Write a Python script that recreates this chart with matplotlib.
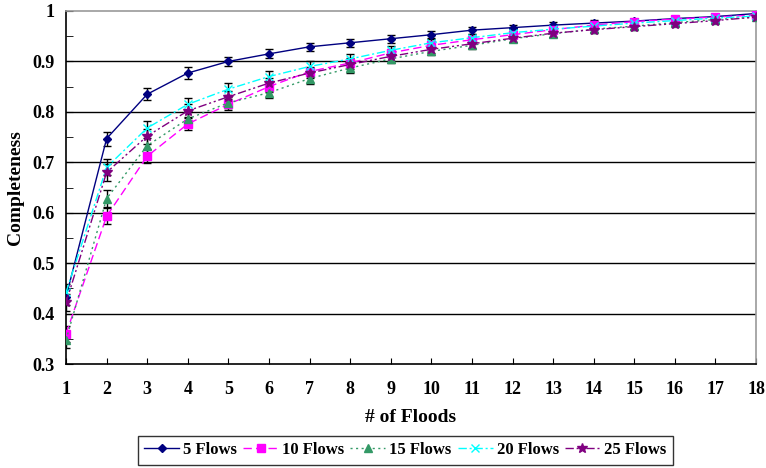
import matplotlib
matplotlib.use("Agg")
import matplotlib.pyplot as plt
import numpy as np

floods = list(range(1, 19))
flows_5 = [0.433, 0.747, 0.835, 0.877, 0.900, 0.915, 0.929, 0.937, 0.945, 0.953, 0.962, 0.967, 0.972, 0.976, 0.980, 0.985, 0.989, 0.995]
flows_10 = [0.360, 0.593, 0.712, 0.776, 0.815, 0.850, 0.880, 0.897, 0.917, 0.932, 0.943, 0.953, 0.963, 0.972, 0.979, 0.984, 0.988, 0.992]
flows_15 = [0.348, 0.628, 0.733, 0.786, 0.818, 0.838, 0.866, 0.887, 0.905, 0.920, 0.932, 0.945, 0.955, 0.964, 0.970, 0.977, 0.983, 0.988]
flows_20 = [0.442, 0.690, 0.768, 0.815, 0.845, 0.870, 0.890, 0.905, 0.922, 0.937, 0.947, 0.957, 0.964, 0.970, 0.976, 0.981, 0.986, 0.990]
flows_25 = [0.422, 0.680, 0.752, 0.802, 0.830, 0.857, 0.877, 0.894, 0.910, 0.924, 0.935, 0.946, 0.956, 0.963, 0.969, 0.975, 0.981, 0.988]
err_5 = [0.015, 0.014, 0.012, 0.011, 0.009, 0.009, 0.008, 0.008, 0.008, 0.007, 0.007, 0.006, 0.006, 0.006, 0.005, 0.005, 0.005, 0.004]
err_10 = [0.016, 0.016, 0.014, 0.012, 0.011, 0.010, 0.009, 0.009, 0.008, 0.008, 0.007, 0.007, 0.006, 0.006, 0.006, 0.005, 0.005, 0.004]
err_15 = [0.016, 0.017, 0.015, 0.013, 0.011, 0.011, 0.010, 0.009, 0.009, 0.008, 0.008, 0.007, 0.007, 0.006, 0.006, 0.005, 0.005, 0.004]
err_20 = [0.016, 0.016, 0.014, 0.013, 0.012, 0.011, 0.010, 0.009, 0.009, 0.008, 0.008, 0.007, 0.007, 0.006, 0.006, 0.005, 0.005, 0.004]
err_25 = [0.016, 0.017, 0.015, 0.013, 0.012, 0.011, 0.010, 0.009, 0.009, 0.008, 0.008, 0.007, 0.007, 0.006, 0.006, 0.005, 0.005, 0.004]
labels = ["5 Flows", "10 Flows", "15 Flows", "20 Flows", "25 Flows"]

plt.rcParams['font.family'] = ['Liberation Serif', 'DejaVu Serif']
plt.rcParams['font.weight'] = 'bold'

fig = plt.figure(figsize=(7.66, 4.68), dpi=100)
ax = fig.add_axes([0.0862, 0.2222, 0.9008, 0.7543])

series = [
    (flows_5, err_5, "#000080", "-", "D", 4.5),
    (flows_10, err_10, "#FF00FF", (0, (6, 3)), "s", 5.5),
    (flows_15, err_15, "#339966", (0, (1.5, 2.5)), "^", 5.5),
    (flows_20, err_20, "#00FFFF", (0, (6, 2, 1.5, 2)), "x", 6),
    (flows_25, err_25, "#800080", (0, (6, 2, 1.5, 2, 1.5, 2)), "*", 7),
]
handles = []
for (vals, err, col, ls, mk, ms), lab in zip(series, labels):
    ax.errorbar(floods, vals, yerr=err, fmt='none', ecolor='black', elinewidth=1.0, capsize=3, capthick=1.0, zorder=2)
    h, = ax.plot(floods, vals, color=col, linestyle=ls, linewidth=1.0, marker=mk, markersize=ms,
                 markeredgecolor=col, markerfacecolor=col, label=lab, zorder=3)
    handles.append(h)

ax.set_xlim(1, 18)
ax.set_ylim(0.3, 1.0)
ax.set_xticks(floods)
ax.set_yticks([0.3, 0.4, 0.5, 0.6, 0.7, 0.8, 0.9, 1.0])
ax.set_yticklabels(["0.3", "0.4", "0.5", "0.6", "0.7", "0.8", "0.9", "1"])
ax.set_yticks(np.arange(0.35, 1.0, 0.1), minor=True)
ax.tick_params(axis='y', which='both', direction='in', length=5, labelsize=13, pad=8, right=False)
ax.tick_params(axis='x', which='major', direction='in', length=4, labelsize=13, pad=12, top=False)
for t in ax.get_xticklabels() + ax.get_yticklabels():
    t.set_fontweight('bold')

for yv in [0.4, 0.5, 0.6, 0.7, 0.8, 0.9]:
    ax.axhline(yv, color='black', linewidth=1.0, zorder=1)

ax.spines['left'].set_color('black')
ax.spines['bottom'].set_color('black')
ax.spines['top'].set_color('#999999')
ax.spines['right'].set_color('#999999')
for s in ax.spines.values():
    s.set_linewidth(1.2)

ax.set_xlabel("# of Floods", fontsize=14, fontweight='bold', labelpad=8)
ax.set_ylabel("Completeness", fontsize=14, fontweight='bold', labelpad=6)

leg = fig.legend(handles=handles, loc='center', bbox_to_anchor=(0.529, 0.038), ncol=5,
                 frameon=True, fancybox=False, edgecolor='black',
                 handlelength=2.1, handletextpad=0.25, columnspacing=0.35, borderpad=0.4,
                 prop={'weight': 'bold', 'size': 12})
leg.get_frame().set_linewidth(1.0)

fig.savefig("out.png", dpi=100)
